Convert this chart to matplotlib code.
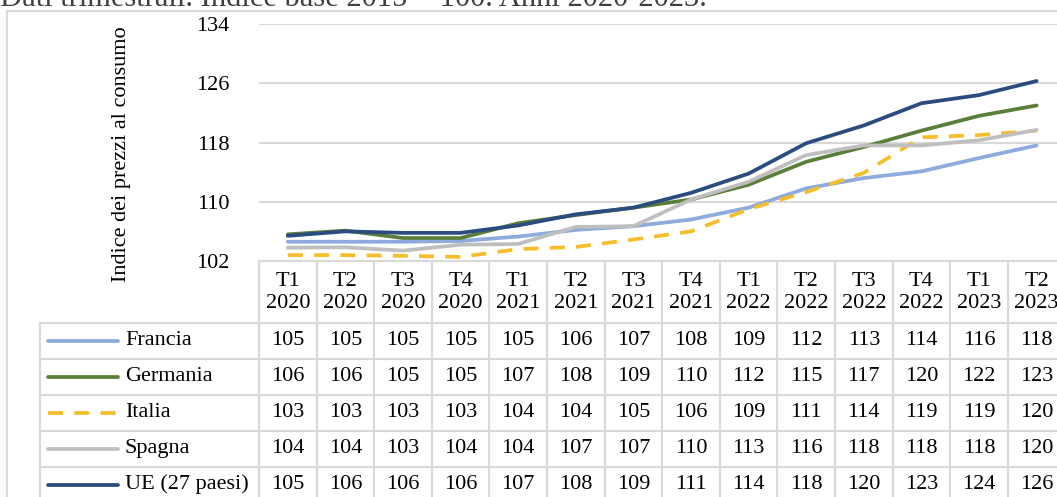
import numpy as np
import matplotlib.pyplot as plt

# Quarterly consumer price index, base 2015 = 100
quarters = ["T1\n2020", "T2\n2020", "T3\n2020", "T4\n2020",
            "T1\n2021", "T2\n2021", "T3\n2021", "T4\n2021",
            "T1\n2022", "T2\n2022", "T3\n2022", "T4\n2022",
            "T1\n2023", "T2\n2023"]

francia = [104.6, 104.6, 104.6, 104.7, 105.3, 106.2, 106.7, 107.6, 109.2, 111.8, 113.2, 114.1, 115.9, 117.6]
germania = [105.6, 106.1, 105.1, 105.1, 107.1, 108.2, 109.2, 110.3, 112.3, 115.4, 117.4, 119.6, 121.6, 123.0]
italia = [102.8, 102.8, 102.7, 102.55, 103.6, 103.9, 104.9, 106.0, 109.0, 111.3, 113.9, 118.7, 119.0, 119.6]
spagna = [103.8, 103.85, 103.4, 104.2, 104.3, 106.6, 106.7, 110.3, 112.7, 116.3, 117.6, 117.6, 118.3, 119.7]
ue27 = [105.4, 106.0, 105.8, 105.8, 106.8, 108.3, 109.2, 111.2, 113.8, 117.9, 120.3, 123.3, 124.4, 126.3]

names = ["Francia", "Germania", "Italia", "Spagna", "UE (27 paesi)"]
series = [francia, germania, italia, spagna, ue27]
colors = ["#8FAADC", "#5B7F3A", "#F6BE2C", "#BFBFBF", "#2B4C7E"]
styles = ["-", "-", (0, (4, 3)), "-", "-"]

yticks = [102, 110, 118, 126, 134]

plt.rcParams['font.family'] = ['Liberation Serif', 'DejaVu Serif']
FS = 16
GRID = "#D9D9D9"
LW = 2.7

W, H = 1057, 497
fig = plt.figure(figsize=(W / 100, H / 100), dpi=100)

# layout in pixels
x0 = 259
colw = 57.6
y_top, y_bot = 24, 261
n = len(quarters)

ax = fig.add_axes([x0 / W, 1 - y_bot / H, n * colw / W, (y_bot - y_top) / H])
x = np.arange(n)
for vals, name, c, ls in zip(series, names, colors, styles):
    ax.plot(x, vals, color=c, lw=LW, ls=ls, solid_capstyle='round',
            dash_capstyle='butt', label=name, clip_on=False)

ax.set_xlim(-0.5, n - 0.5)
ax.set_ylim(102, 134)
ax.set_yticks(yticks)
ax.set_xticks([])
ax.tick_params(axis='y', length=0, pad=21, labelsize=FS)
ax.yaxis.grid(True, color=GRID, lw=1.5)
ax.set_axisbelow(True)
for s in ax.spines.values():
    s.set_visible(False)
ax.set_ylabel("Indice dei prezzi al consumo", fontsize=FS)
ax.yaxis.set_label_coords(-128 / (n * colw), 0.45)

# overlay in pixel coordinates for the data table and the frame
ov = fig.add_axes([0, 0, 1, 1])
ov.set_xlim(0, W)
ov.set_ylim(H, 0)
ov.axis('off')
ov.set_zorder(-1)

# chart frame
ov.plot([7, 7, W + 5], [H + 5, 11, 11], color=GRID, lw=1.5)

head_bot = 322.5
rowh = 36
x_right = x0 + n * colw
# header
ov.plot([x0, x_right], [y_bot, y_bot], color=GRID, lw=1.5)
for i in range(n + 1):
    xx = x0 + i * colw
    ov.plot([xx, xx], [y_bot, H + 5], color=GRID, lw=1.5)
for i, q in enumerate(quarters):
    cx = x0 + (i + 0.5) * colw
    top, bottom = q.split("\n")
    ov.text(cx, 282, top, ha='center', va='center', fontsize=FS)
    ov.text(cx, 304, bottom, ha='center', va='center', fontsize=FS)

# data rows
lx = 39.5
ov.plot([lx, lx], [head_bot, H + 5], color=GRID, lw=1.5)
for r in range(len(names) + 1):
    yy = head_bot + r * rowh
    ov.plot([lx, x_right], [yy, yy], color=GRID, lw=1.5)
for r, (vals, name, c, ls) in enumerate(zip(series, names, colors, styles)):
    cy = head_bot + (r + 0.5) * rowh
    ov.plot([48, 118], [cy, cy], color=c, lw=LW, ls=ls, solid_capstyle='round')
    ov.text(125, cy, name, ha='left', va='center', fontsize=FS)
    for i, v in enumerate(vals):
        ov.text(x0 + (i + 0.5) * colw, cy, f"{v:.0f}", ha='center', va='center', fontsize=FS)

# title, cut off by the top edge as in the source
fig.text(0.0, 1 - 6 / H, "Dati trimestrali. Indice base 2015 = 100. Anni 2020-2023.",
         fontsize=22, color="#404040", ha='left', va='baseline')

fig.savefig("out.png", dpi=100)
